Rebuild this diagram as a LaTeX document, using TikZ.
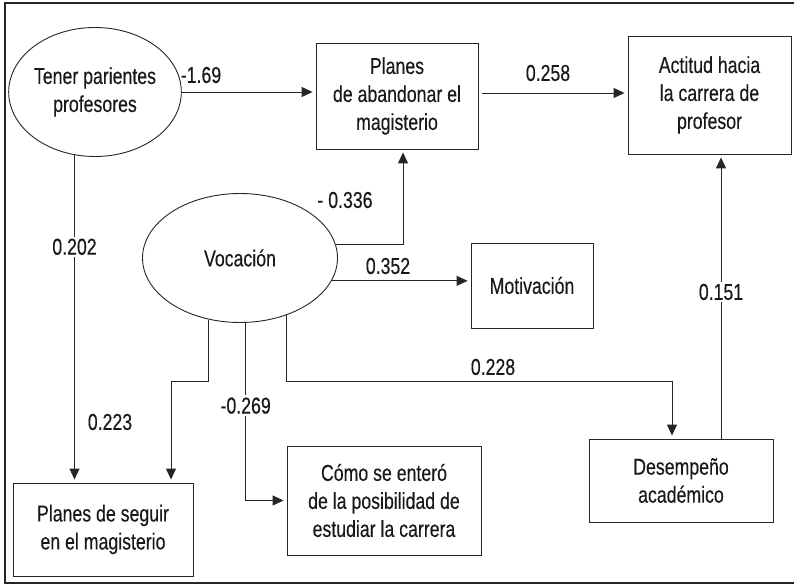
\documentclass[tikz,border=0pt]{standalone}
\usepackage{fontspec}
\setmainfont[FakeStretch=0.77,FakeBold=0.3]{Liberation Sans}
\usetikzlibrary{arrows.meta,shapes.geometric}
\begin{document}
\begin{tikzpicture}[x=1pt,y=-1pt,
  font=\fontsize{23}{28}\selectfont,
  every node/.style={text=black!90},
  box/.style={draw=black!85, line width=0.9pt, align=center, inner sep=0pt},
  oval/.style={draw=black!85, ellipse, fill=white, line width=0.9pt, align=center, inner sep=0pt},
  conn/.style={draw=black!85, line width=0.9pt, -{Triangle[length=11pt,width=10pt]}, shorten >=3pt},
  lbl/.style={inner sep=1pt},
  brk/.style={inner sep=2pt, fill=white}]
\useasboundingbox (0,0) rectangle (794,585);
\draw[line width=2pt, black!85] (794,3) -- (5,3) -- (5,583) -- (794,583);

% nodes
\node[oval, minimum width=158pt, minimum height=129pt] (tener) at (95,92) {Tener parientes\\profesores};
\node[oval, minimum width=195pt, minimum height=129pt] (voc) at (240,258) {Vocación};
\node[box, minimum width=162pt, minimum height=106pt] (aband) at (397,96) {Planes\\de abandonar el\\magisterio};
\node[box, minimum width=163pt, minimum height=118pt] (actitud) at (709.5,95) {Actitud hacia\\la carrera de\\profesor};
\node[box, minimum width=122pt, minimum height=85pt] (motiv) at (532,285.5) {Motivación};
\node[box, minimum width=184pt, minimum height=83pt] (desemp) at (681,480.5) {Desempeño\\académico};
\node[box, minimum width=180pt, minimum height=93pt] (seguir) at (103,529.5) {Planes de seguir\\en el magisterio};
\node[box, minimum width=194pt, minimum height=109pt] (como) at (384,500.5) {Cómo se enteró\\de la posibilidad de\\estudiar la carrera};

% connectors
\draw[conn] (tener.east) -- (tener.east -| aband.west);
\draw[conn, shorten <=4pt] ([yshift=3pt]aband.east) -- ([yshift=3pt]aband.east -| actitud.west);
\draw[conn] (voc.8) -| ([xshift=6pt]aband.south);
\draw[conn] (voc.-14.5) -- (voc.-14.5 -| motiv.west);
\draw[conn] (tener.252.2) -- (tener.252.2 |- seguir.north)
  node[brk, pos=0.28] (l202) {0.202};
\draw[conn] (voc.243.1) -- ++(0,62) -| ([xshift=68pt]seguir.north);
\draw[conn] (voc.275.3) |- (como.west)
  node[brk, pos=0.233] (l269) {-0.269};
\draw[conn] (voc.309.8) -- ++(0,66.5) -| ([xshift=-9pt]desemp.north);
\draw[conn] ([xshift=40pt]desemp.north) -- ([xshift=40pt]desemp.north |- actitud.south)
  node[brk, pos=0.516] (l151) {0.151};

% labels
\node[lbl] (l169) at (201,75) {-1.69};
\node[lbl] (l258) at (548,73) {0.258};
\node[lbl] (l336) at (345,200) {- 0.336};
\node[lbl] (l352) at (388,266) {0.352};
\node[lbl] (l223) at (110,422) {0.223};
\node[lbl] (l228) at (493,367) {0.228};
\end{tikzpicture}
\end{document}
